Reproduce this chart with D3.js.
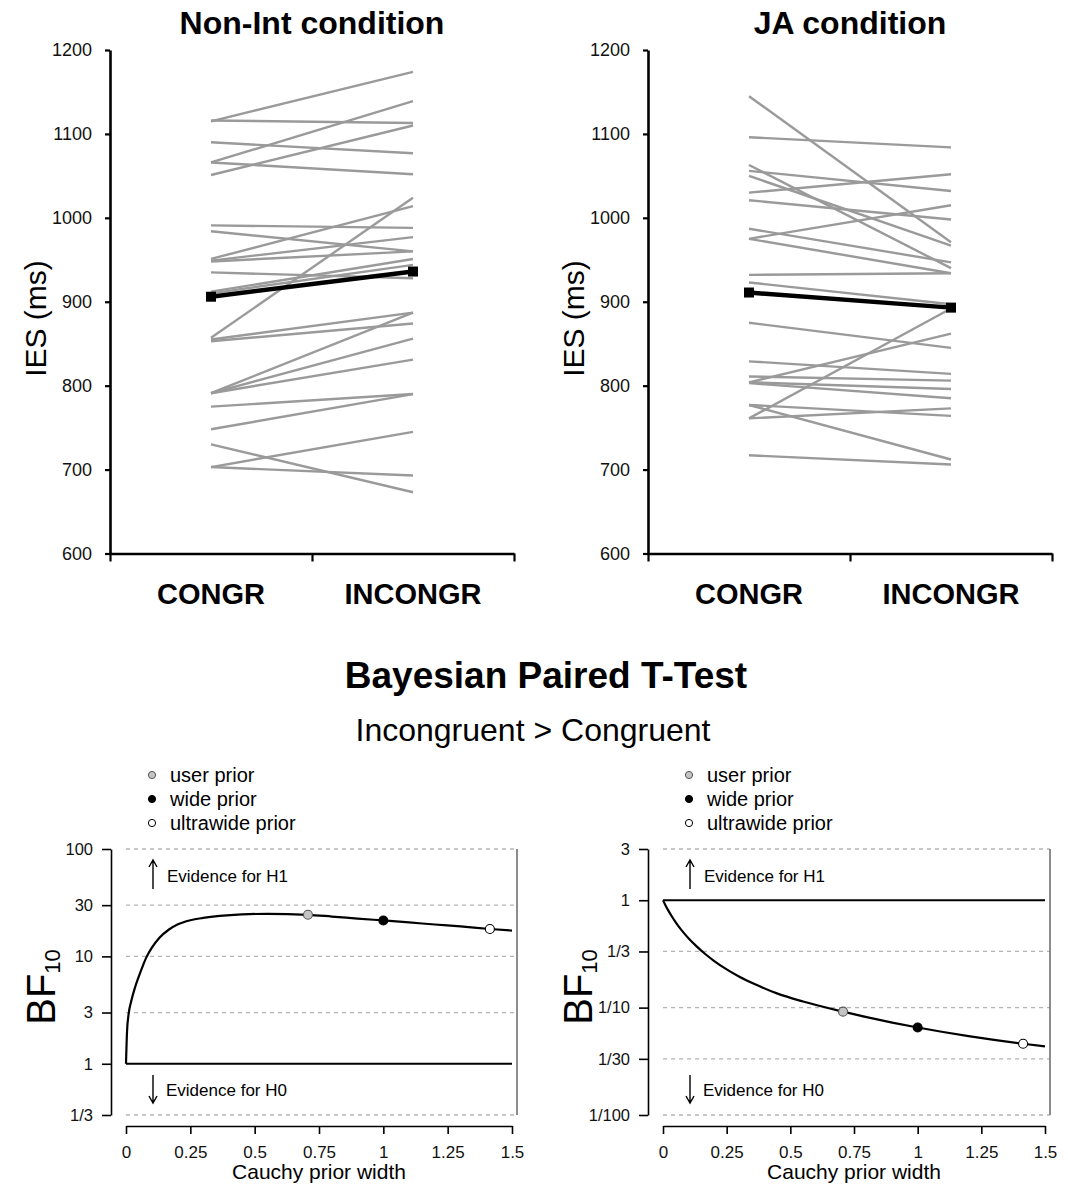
<!DOCTYPE html>
<html>
<head>
<meta charset="utf-8">
<script src="https://cdn.jsdelivr.net/npm/d3@7"></script>
<style>
  body { margin: 0; background: #fff; }
  svg { display: block; font-family: "Liberation Sans", Arial, Helvetica, sans-serif; }
</style>
</head>
<body>
<svg id="chart" width="1068" height="1184"></svg>
<script>
// ---- data ----
const categories = ["CONGR", "INCONGR"];
const iesTicks = [600, 700, 800, 900, 1000, 1100, 1200];

// Non-Int condition, one value per participant
const nonIntCongr   = [1115, 1116, 1090, 1066, 1066, 1051, 991, 984, 951, 949, 948, 935, 912, 910, 857, 855, 853, 791, 791, 791, 775, 748, 730, 703, 703];
const nonIntIncongr = [1174, 1113, 1077, 1139, 1052, 1110, 988, 960, 1014, 977, 960, 928, 951, 944, 1024, 887, 874, 887, 856, 831, 790, 790, 673, 745, 693];
const nonIntMean = [906, 936];

// JA condition
const jaCongr   = [1145, 1096, 1063, 1056, 1050, 1030, 1021, 987, 975, 975, 932, 923, 875, 829, 811, 804, 804, 803, 777, 777, 761, 761, 717];
const jaIncongr = [971, 1084, 940, 1032, 967, 1052, 998, 947, 1015, 934, 934, 897, 845, 814, 806, 862, 796, 785, 764, 712, 892, 773, 706];
const jaMean = [911, 893];

// Bayes factor robustness curves
const priorWidth = [0, 0.004, 0.01, 0.02, 0.035, 0.05, 0.065, 0.08, 0.1, 0.13, 0.167, 0.2, 0.25, 0.3, 0.364, 0.45, 0.55, 0.707, 0.8, 0.9, 1.0, 1.1, 1.2, 1.3, 1.414, 1.5];
const bfNonInt = [1, 2.0, 2.88, 3.8, 5.13, 6.53, 8.13, 9.89, 12.0, 14.9, 17.8, 19.8, 21.7, 22.8, 23.8, 24.6, 24.9, 24.4, 23.5, 22.5, 21.6, 20.7, 19.8, 19.0, 18.0, 17.4];
const bfJA     = [1, 0.955, 0.895, 0.809, 0.705, 0.622, 0.556, 0.502, 0.443, 0.376, 0.314, 0.273, 0.227, 0.194, 0.164, 0.135, 0.114, 0.0917, 0.0815, 0.0726, 0.0653, 0.0593, 0.0543, 0.0501, 0.0461, 0.0435];

const markerWidth = [0.707, 1, 1.414];
const markerBfNonInt = [24.4, 21.6, 18.0];
const markerBfJA = [0.0917, 0.0653, 0.0461];
const legendLabels = ["user prior", "wide prior", "ultrawide prior"];
const markerFill = ["#c4c4c4", "#000", "#fff"];

const bfTicksNonInt = [1/3, 1, 3, 10, 30, 100];
const bfTickLabelsNonInt = ["1/3", "1", "3", "10", "30", "100"];
const bfTicksJA = [1/100, 1/30, 1/10, 1/3, 1, 3];
const bfTickLabelsJA = ["1/100", "1/30", "1/10", "1/3", "1", "3"];
const widthTicks = [0, 0.25, 0.5, 0.75, 1, 1.25, 1.5];

const svg = d3.select("#chart");

// ---- top: paired IES plots ----
function drawIES(left, title, congr, incongr, mean) {
    const x = d3.scaleLinear().domain([0, 2]).range([left, left + 404]);
    const y = d3.scaleLinear().domain([600, 1200]).range([553.5, 50]);
    const g = svg.append("g");

    const yAxis = g.append("g")
        .attr("transform", `translate(${left},0)`)
        .call(d3.axisLeft(y).tickValues(iesTicks).tickFormat(d3.format("d"))
            .tickSize(5).tickSizeOuter(0).tickPadding(13));
    yAxis.selectAll("text").attr("font-size", 18).attr("font-family", null).attr("fill", "#111");

    const xAxis = g.append("g")
        .attr("transform", `translate(0,${y(600)})`)
        .call(d3.axisBottom(x).tickValues([0, 1, 2]).tickSize(8).tickSizeOuter(0).tickFormat(""));

    [yAxis, xAxis].forEach(a => {
        a.select(".domain").attr("stroke-width", 2.6);
        a.selectAll(".tick line").attr("stroke-width", 2.2);
    });

    g.selectAll("text.cat")
        .data(categories)
        .join("text")
        .attr("class", "cat")
        .attr("x", (d, i) => x(i + 0.5))
        .attr("y", 604)
        .attr("text-anchor", "middle")
        .attr("font-size", 29)
        .attr("font-weight", "bold")
        .text(d => d);

    g.append("text")
        .attr("x", x(1))
        .attr("y", 34)
        .attr("text-anchor", "middle")
        .attr("font-size", 32)
        .attr("font-weight", "bold")
        .text(title);

    g.append("text")
        .attr("transform", `translate(${left - 64},${y(880)}) rotate(-90)`)
        .attr("text-anchor", "middle")
        .attr("font-size", 30)
        .text("IES (ms)");

    const pairs = congr.map((c, i) => [c, incongr[i]]);
    g.selectAll("line.subj")
        .data(pairs)
        .join("line")
        .attr("class", "subj")
        .attr("x1", x(0.5))
        .attr("x2", x(1.5))
        .attr("y1", d => y(d[0]))
        .attr("y2", d => y(d[1]))
        .attr("stroke", "#9a9a9a")
        .attr("stroke-width", 2.4);

    g.append("line")
        .attr("x1", x(0.5))
        .attr("x2", x(1.5))
        .attr("y1", y(mean[0]))
        .attr("y2", y(mean[1]))
        .attr("stroke", "#000")
        .attr("stroke-width", 4.5);

    g.selectAll("rect.mean")
        .data(mean)
        .join("rect")
        .attr("class", "mean")
        .attr("x", (d, i) => x(i + 0.5) - 5)
        .attr("y", d => y(d) - 5)
        .attr("width", 10)
        .attr("height", 10)
        .attr("fill", "#000");
}

drawIES(110, "Non-Int condition", nonIntCongr, nonIntIncongr, nonIntMean);
drawIES(648, "JA condition", jaCongr, jaIncongr, jaMean);

// ---- bottom: Bayesian robustness plots ----
svg.append("text")
    .attr("x", 546)
    .attr("y", 688)
    .attr("text-anchor", "middle")
    .attr("font-size", 37)
    .attr("font-weight", "bold")
    .text("Bayesian Paired T-Test");

svg.append("text")
    .attr("x", 533)
    .attr("y", 741)
    .attr("text-anchor", "middle")
    .attr("font-size", 32)
    .text("Incongruent > Congruent");

function drawBF(axisX, xRange, rightX, yDomain, ticks, tickLabels, bf, markerBf) {
    const x = d3.scaleLinear().domain([0, 1.5]).range(xRange);
    const y = d3.scaleLog().domain(yDomain).range([1115, 849]);
    const g = svg.append("g");

    // dashed reference lines
    g.selectAll("line.grid")
        .data(ticks.filter(t => Math.abs(t - 1) > 1e-9))
        .join("line")
        .attr("class", "grid")
        .attr("x1", x(0))
        .attr("x2", rightX)
        .attr("y1", d => y(d))
        .attr("y2", d => y(d))
        .attr("stroke", "#b5b5b5")
        .attr("stroke-width", 1.3)
        .attr("stroke-dasharray", "4,4");

    g.append("line")
        .attr("x1", rightX).attr("x2", rightX)
        .attr("y1", y(yDomain[0])).attr("y2", y(yDomain[1]))
        .attr("stroke", "#707070")
        .attr("stroke-width", 1.6);

    g.append("line")
        .attr("x1", x(0)).attr("x2", x(1.5))
        .attr("y1", y(1)).attr("y2", y(1))
        .attr("stroke", "#000")
        .attr("stroke-width", 1.8);

    const yAxis = g.append("g")
        .attr("transform", `translate(${axisX},0)`)
        .call(d3.axisLeft(y).tickValues(ticks).tickFormat((d, i) => tickLabels[i])
            .tickSize(9).tickSizeOuter(0).tickPadding(9));
    yAxis.selectAll("text").attr("font-size", 16.5).attr("font-family", null).attr("fill", "#111");

    const xAxis = g.append("g")
        .attr("transform", "translate(0,1126)")
        .call(d3.axisBottom(x).tickValues(widthTicks).tickFormat(d => String(d))
            .tickSize(8).tickSizeOuter(0).tickPadding(12));
    xAxis.selectAll("text").attr("font-size", 17).attr("font-family", null).attr("fill", "#111");

    [yAxis, xAxis].forEach(a => {
        a.select(".domain").attr("stroke-width", 1.6);
        a.selectAll(".tick line").attr("stroke-width", 1.6);
    });

    g.append("text")
        .attr("x", (xRange[0] + xRange[1]) / 2)
        .attr("y", 1179)
        .attr("text-anchor", "middle")
        .attr("font-size", 21)
        .text("Cauchy prior width");

    const lab = g.append("text")
        .attr("transform", `translate(${axisX - 56},987) rotate(-90)`)
        .attr("text-anchor", "middle");
    lab.append("tspan").attr("font-size", 40).text("BF");
    lab.append("tspan").attr("font-size", 22).attr("dy", 5).text("10");

    // curve
    const pts = priorWidth.map((w, i) => [w, bf[i]]);
    g.append("path")
        .datum(pts)
        .attr("fill", "none")
        .attr("stroke", "#000")
        .attr("stroke-width", 2.2)
        .attr("d", d3.line().x(d => x(d[0])).y(d => y(d[1])).curve(d3.curveMonotoneX));

    g.selectAll("circle.prior")
        .data(markerWidth)
        .join("circle")
        .attr("class", "prior")
        .attr("cx", d => x(d))
        .attr("cy", (d, i) => y(markerBf[i]))
        .attr("r", 4.5)
        .attr("fill", (d, i) => markerFill[i])
        .attr("stroke", (d, i) => i === 0 ? "#555" : "#000")
        .attr("stroke-width", 1.1);

    // legend
    const leg = g.selectAll("g.leg")
        .data(legendLabels)
        .join("g")
        .attr("class", "leg")
        .attr("transform", (d, i) => `translate(${axisX + 41},${775 + i * 24})`);
    leg.append("circle")
        .attr("r", 3.6)
        .attr("fill", (d, i) => markerFill[i])
        .attr("stroke", (d, i) => i === 0 ? "#555" : "#000")
        .attr("stroke-width", 1);
    leg.append("text")
        .attr("x", 18)
        .attr("y", 7)
        .attr("font-size", 20)
        .text(d => d);

    // evidence annotations
    const arrow = (x0, ya, yb) => `M${x0},${ya}V${yb}`;
    g.append("path")
        .attr("d", arrow(axisX + 42, 889, 861) + `M${axisX + 38},${867}L${axisX + 42},${860}L${axisX + 46},${867}`)
        .attr("fill", "none").attr("stroke", "#000").attr("stroke-width", 1.4);
    g.append("text")
        .attr("x", axisX + 56).attr("y", 882)
        .attr("font-size", 17)
        .text("Evidence for H1");

    g.append("path")
        .attr("d", arrow(axisX + 42, 1075, 1103) + `M${axisX + 38},${1096}L${axisX + 42},${1103}L${axisX + 46},${1096}`)
        .attr("fill", "none").attr("stroke", "#000").attr("stroke-width", 1.4);
    g.append("text")
        .attr("x", axisX + 55).attr("y", 1096)
        .attr("font-size", 17)
        .text("Evidence for H0");
}

drawBF(111, [126, 512], 517, [1/3, 100], bfTicksNonInt, bfTickLabelsNonInt, bfNonInt, markerBfNonInt);
drawBF(648, [663, 1045], 1050, [1/100, 3], bfTicksJA, bfTickLabelsJA, bfJA, markerBfJA);
</script>
</body>
</html>
